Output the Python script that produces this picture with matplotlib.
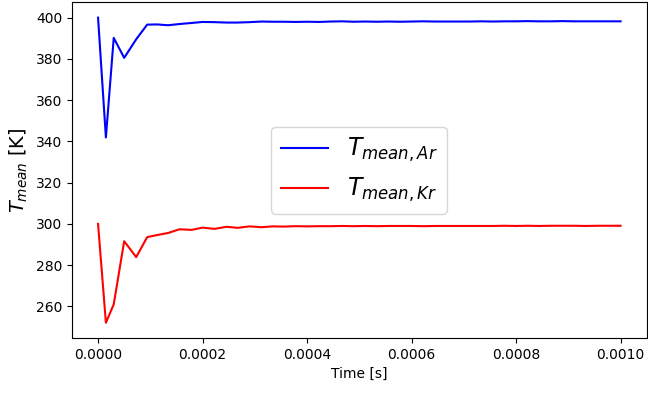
import matplotlib
matplotlib.use("Agg")
import matplotlib.pyplot as plt

# sampled output times [s]
time = [0.0, 1.5e-5, 3.0e-5, 5.0e-5, 7.3e-5, 9.4e-5, 1.13e-4, 1.34e-4, 1.56e-4,
        1.79e-4, 2.00e-4, 2.23e-4, 2.46e-4, 2.67e-4, 2.90e-4, 3.13e-4, 3.34e-4,
        3.56e-4, 3.78e-4, 4.00e-4, 4.23e-4, 4.45e-4, 4.67e-4, 4.89e-4, 5.11e-4,
        5.34e-4, 5.56e-4, 5.78e-4, 6.00e-4, 6.22e-4, 6.45e-4, 6.67e-4, 6.89e-4,
        7.11e-4, 7.33e-4, 7.56e-4, 7.78e-4, 8.00e-4, 8.22e-4, 8.44e-4, 8.67e-4,
        8.89e-4, 9.11e-4, 9.33e-4, 9.56e-4, 9.78e-4, 1.0e-3]

# mean temperature of argon [K]
t_ar = [400.0, 341.9, 390.2, 380.5, 389.5, 396.6, 396.7, 396.3, 396.9,
        397.4, 397.9, 397.8, 397.6, 397.6, 397.8, 398.1, 398.0,
        398.0, 397.9, 398.0, 397.9, 398.1, 398.2, 398.0, 398.1,
        398.0, 398.1, 398.0, 398.1, 398.2, 398.1, 398.1, 398.1,
        398.1, 398.2, 398.1, 398.2, 398.2, 398.3, 398.2, 398.2,
        398.3, 398.2, 398.2, 398.2, 398.2, 398.2]

# mean temperature of krypton [K]
t_kr = [300.0, 252.1, 261.0, 291.6, 283.9, 293.6, 294.6, 295.6, 297.4,
        297.1, 298.2, 297.6, 298.6, 298.1, 298.8, 298.4, 298.8,
        298.7, 298.9, 298.8, 298.9, 298.9, 299.0, 298.9, 299.0,
        298.9, 299.0, 299.0, 299.0, 298.9, 299.0, 299.0, 299.0,
        299.0, 299.0, 299.0, 299.1, 299.0, 299.1, 299.0, 299.1,
        299.1, 299.1, 299.0, 299.1, 299.1, 299.1]

fig = plt.figure(figsize=(6.48, 3.93), dpi=100)
ax = fig.add_axes([0.111, 0.14, 0.887, 0.854])

ax.plot(time, t_ar, color='blue', linewidth=1.5, label=r'$T_{mean,Ar}$')
ax.plot(time, t_kr, color='red', linewidth=1.5, label=r'$T_{mean,Kr}$')

ax.set_xlabel('Time [s]', fontsize=10)
ax.set_ylabel(r'$T_{mean}$ [K]', fontsize=14)
ax.tick_params(labelsize=10)
ax.legend(loc='center', fontsize=17)

fig.savefig('out.png', dpi=100)
